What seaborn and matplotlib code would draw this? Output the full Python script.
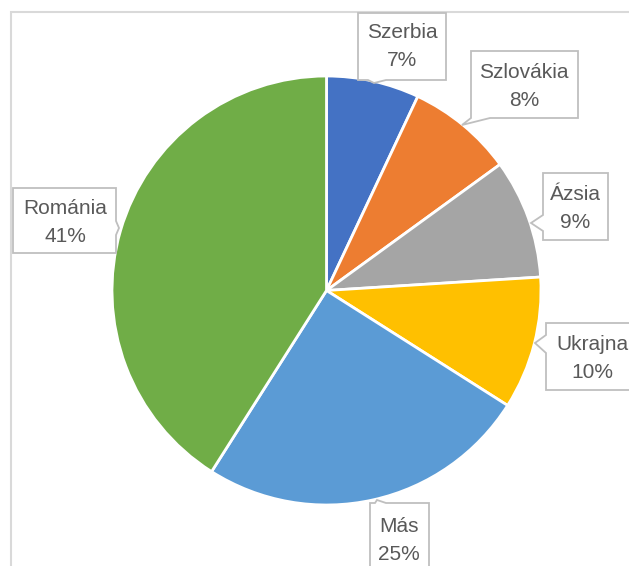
import matplotlib
matplotlib.use("Agg")
import matplotlib.pyplot as plt
from matplotlib.patches import Polygon
import seaborn as sns

# Share of each origin, clockwise from 12 o'clock
categories = ["Szerbia", "Szlovákia", "Ázsia", "Ukrajna", "Más", "Románia"]
shares = [7, 8, 9, 10, 25, 41]
colors = ["#4472C4", "#ED7D31", "#A5A5A5", "#FFC000", "#5B9BD5", "#70AD47"]

sns.set_theme(style="white")
plt.rcParams["font.family"] = ["Liberation Sans Narrow", "Liberation Sans", "DejaVu Sans"]

W, H = 629, 566
fig = plt.figure(figsize=(W / 100, H / 100), dpi=100)
ax = fig.add_axes([0, 0, 1, 1])


def px(x, y):
    """Pixel position (origin top-left) to data coordinates."""
    return (x, H - y)


# chart area frame (left and top edges visible)
ax.plot([11, 11, W + 5], [-5, H - 12, H - 12], color="#D9D9D9", lw=1.5,
        solid_joinstyle="miter", zorder=1)

ax.pie(shares, colors=colors, startangle=90, counterclock=False,
       center=px(326.5, 290.5), radius=214.5, frame=True,
       wedgeprops=dict(edgecolor="white", linewidth=2))
ax.set_xlim(0, W)
ax.set_ylim(0, H)
ax.set_aspect("equal")
ax.axis("off")

# callout outlines (pixel coordinates)
callouts = {
    "Szerbia": [(358, 13), (446, 13), (446, 80), (386, 80), (374, 83), (368, 80), (358, 80)],
    "Szlovákia": [(471, 51), (578, 51), (578, 118), (490, 118), (462, 125), (471, 118)],
    "Ázsia": [(543, 173), (608, 173), (608, 240), (543, 240), (543, 231), (531, 223), (543, 215)],
    "Ukrajna": [(546, 323), (650, 323), (650, 390), (546, 390), (546, 353), (535, 343), (546, 335)],
    "Más": [(370, 503), (375, 503), (377, 500), (386, 503), (429, 503), (429, 580), (370, 580)],
    "Románia": [(13, 188), (116, 188), (116, 221), (119, 228), (116, 235), (116, 253), (13, 253)],
}
text_pos = {
    "Szerbia": (402, 47),
    "Szlovákia": (524, 86),
    "Ázsia": (575, 208),
    "Ukrajna": (592, 359),
    "Más": (399, 540),
    "Románia": (65, 223),
}

for name, val in zip(categories, shares):
    pts = [px(x, y) for x, y in callouts[name]]
    ax.add_patch(Polygon(pts, closed=True, facecolor="white",
                         edgecolor="#BFBFBF", lw=1.3, zorder=3))
    tx, ty = px(*text_pos[name])
    ax.text(tx, ty, f"{name}\n{val}%", ha="center", va="center",
            fontsize=15, color="#595959", linespacing=1.6, zorder=4)

fig.savefig("out.png", dpi=100)
